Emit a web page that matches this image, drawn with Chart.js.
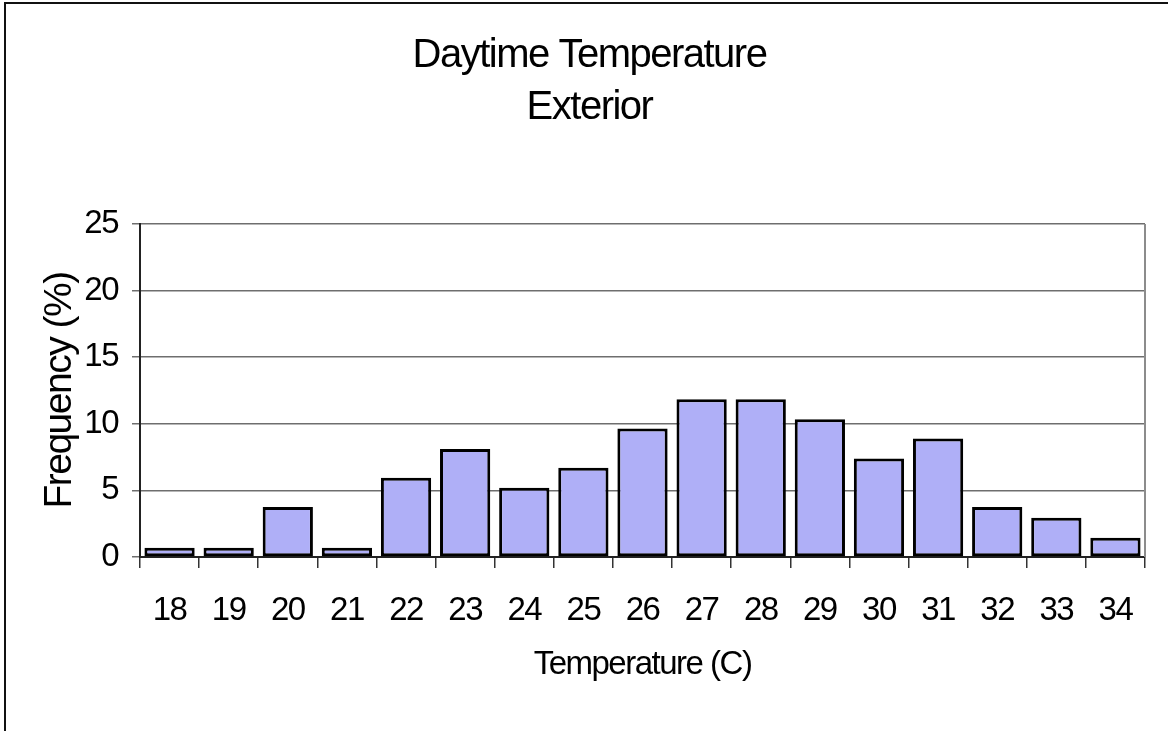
<!DOCTYPE html>
<html>
<head>
<meta charset="utf-8">
<title>Daytime Temperature - Exterior</title>
<script src="https://cdn.jsdelivr.net/npm/chart.js@4/dist/chart.umd.min.js"></script>
<style>
  html, body { margin: 0; padding: 0; background: #fff; }
  #wrap { position: relative; width: 1168px; height: 731px; }
</style>
</head>
<body>
<div id="wrap"><canvas id="chart" width="1168" height="731"></canvas></div>
<script>
const temperatures = ['18', '19', '20', '21', '22', '23', '24', '25', '26', '27', '28', '29', '30', '31', '32', '33', '34'];
const frequency = [0.7, 0.7, 3.75, 0.7, 5.95, 8.1, 5.2, 6.7, 9.65, 11.85, 11.85, 10.35, 7.4, 8.9, 3.75, 2.95, 1.45];
const titleLines = ['Daytime Temperature', 'Exterior'];
const xTitle = 'Temperature (C)';
const yTitle = 'Frequency (%)';

const FONT = "'Liberation Sans', Arial, sans-serif";

// frame around the whole chart (left/top edges show in the picture) + right edge of plot area
// the original text is a tall, tightly set Arial, so tighten the tracking a bit
const framePlugin = {
    id: 'frame',
    beforeLayout(chart) {
        chart.ctx.letterSpacing = '-1.5px';
    },
    beforeDraw(chart) {
        const { ctx, width, height } = chart;
        ctx.save();
        ctx.fillStyle = '#fff';
        ctx.fillRect(0, 0, width, height);
        ctx.strokeStyle = '#111';
        ctx.lineWidth = 2;
        ctx.beginPath();
        ctx.moveTo(5, height);
        ctx.lineTo(5, 3);
        ctx.lineTo(width, 3);
        ctx.stroke();
        ctx.restore();
        ctx.letterSpacing = '-1.5px';
    },
    afterDraw(chart) {
        const { ctx, chartArea: a } = chart;
        ctx.save();
        ctx.strokeStyle = '#8c8c8c';
        ctx.lineWidth = 2;
        ctx.beginPath();
        ctx.moveTo(a.right, a.top);
        ctx.lineTo(a.right, a.bottom);
        ctx.stroke();
        ctx.restore();
    }
};

new Chart(document.getElementById('chart'), {
    type: 'bar',
    data: {
        labels: temperatures,
        datasets: [{
            data: frequency,
            backgroundColor: '#afaff7',
            borderColor: '#000',
            borderWidth: 3,
            borderSkipped: false,
            categoryPercentage: 1,
            barPercentage: 0.85
        }]
    },
    options: {
        responsive: false,
        animation: false,
        layout: { padding: { left: 11, right: 0, top: 0, bottom: 0 } },
        plugins: {
            legend: { display: false },
            tooltip: { enabled: false },
            title: {
                display: true,
                text: titleLines,
                color: '#000',
                font: { family: FONT, size: 40, weight: 'normal', lineHeight: 1.3 },
                padding: { top: 30, bottom: 90 }
            }
        },
        scales: {
            x: {
                grid: { offset: true, drawOnChartArea: false, drawTicks: true, tickLength: 11, color: '#333', lineWidth: 1.5 },
                border: { display: true, color: '#222', width: 2 },
                ticks: { color: '#000', padding: 23, font: { family: FONT, size: 33 } },
                title: { display: true, text: xTitle, color: '#000', font: { family: FONT, size: 33 }, padding: { top: 0, bottom: 46 } },
                afterFit: s => { s.height = 174; }
            },
            y: {
                min: 0,
                max: 25,
                ticks: { stepSize: 5, color: '#000', padding: 14, font: { family: FONT, size: 33 } },
                grid: { color: '#6e6e6e', lineWidth: 1.5, tickLength: 8, drawTicks: true },
                border: { display: true, color: '#222', width: 2 },
                title: { display: true, text: yTitle, color: '#000', font: { family: FONT, size: 39 }, padding: { top: 26, bottom: 0 } },
                afterFit: s => { s.width = 129; }
            },
            // empty right-hand strip so the plot stops where the original one does
            yRight: {
                position: 'right',
                ticks: { display: false },
                grid: { display: false, drawTicks: false },
                border: { display: false },
                afterFit: s => { s.width = 23; }
            }
        }
    },
    plugins: [framePlugin]
});
</script>
</body>
</html>
